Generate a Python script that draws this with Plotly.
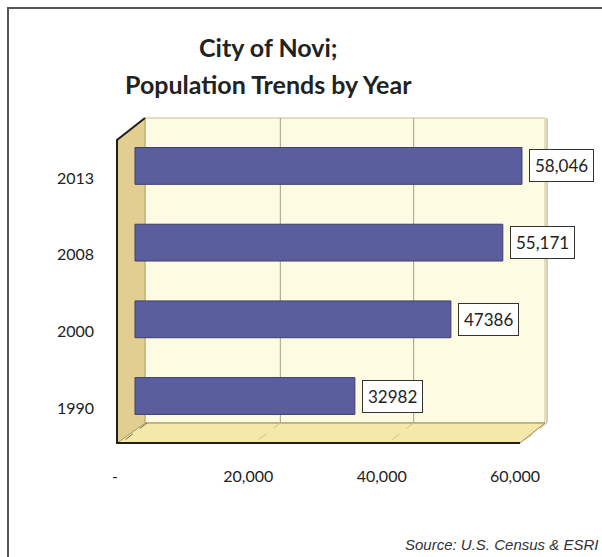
import plotly.graph_objects as go

# ---- data ----
years = ["1990", "2000", "2008", "2013"]
population = [32982, 47386, 55171, 58046]
value_labels = ["32982", "47386", "55,171", "58,046"]
x_tickvals = [0, 20000, 40000, 60000]
x_ticktext = ["-", "20,000", "40,000", "60,000"]
title_lines = ["City of Novi;", "Population Trends by Year"]
source_text = "Source: U.S. Census & ESRI"

# ---- layout geometry (pixels) ----
W, H = 602, 557
L, R, T, B = 100, 32, 118, 134
PW, PH = W - L - R, H - T - B


def px(x):
    return (x - L) / PW


def py(y):
    return (H - B - y) / PH


bar_color = "#5b5e9c"
wall_back = "#fdfbe2"
wall_side = "#e2ce90"
floor_col = "#f4e8aa"
grid_col = "#a8a27c"
font_main = "Lato, Carlito, sans-serif"

fig = go.Figure()
fig.add_trace(go.Bar(
    y=years, x=population, orientation="h",
    width=0.48,
    marker=dict(color=bar_color, line=dict(color="#3c3f70", width=1)),
    hoverinfo="skip",
))

shapes = []
# outer border
shapes.append(dict(type="rect", xref="paper", yref="paper",
                   x0=px(8), x1=px(640), y0=py(8), y1=py(600),
                   line=dict(color="#555", width=2), fillcolor="rgba(0,0,0,0)", layer="below"))
# back wall
shapes.append(dict(type="rect", xref="paper", yref="paper",
                   x0=px(145), x1=px(545), y0=py(118), y1=py(423),
                   line=dict(color="#c9c090", width=1), fillcolor=wall_back, layer="below"))
# floor
shapes.append(dict(type="path", xref="paper", yref="paper",
                   path=f"M {px(145)},{py(423)} L {px(545)},{py(423)} L {px(520)},{py(443)} L {px(117)},{py(443)} Z",
                   line=dict(color="#8f8456", width=1), fillcolor=floor_col, layer="below"))
# left side wall
shapes.append(dict(type="path", xref="paper", yref="paper",
                   path=f"M {px(117)},{py(140)} L {px(145)},{py(118)} L {px(145)},{py(423)} L {px(117)},{py(443)} Z",
                   line=dict(color="#b5a56a", width=1), fillcolor=wall_side, layer="below"))
# dark outer edges of the side wall and floor
shapes.append(dict(type="path", xref="paper", yref="paper",
                   path=f"M {px(145)},{py(118)} L {px(117)},{py(140)} L {px(117)},{py(443)} L {px(520)},{py(443)}",
                   line=dict(color="#1e1e1e", width=2), layer="below"))
# gridlines on back wall (offset by depth)
for v in x_tickvals[1:]:
    shapes.append(dict(type="line", xref="x", yref="paper", xsizemode="pixel", xanchor=v,
                       x0=12, x1=12, y0=0, y1=1,
                       line=dict(color=grid_col, width=1), layer="below"))
# depth diagonals on the floor
for v in x_tickvals:
    shapes.append(dict(type="line", xref="x", yref="paper", xsizemode="pixel", xanchor=v,
                       x0=12, x1=-14, y0=0, y1=-20 / PH,
                       line=dict(color="#6f6848" if v == 0 else "#cfc38a", width=1, dash="dash"),
                       layer="below"))

annotations = []
for i, (val, lab) in enumerate(zip(population, value_labels)):
    annotations.append(dict(x=val, y=i, xref="x", yref="y", text=lab, showarrow=False,
                            xanchor="left", yanchor="middle", xshift=7,
                            font=dict(family=font_main, size=17, color="#222"),
                            bgcolor="white", bordercolor="#333", borderwidth=1, borderpad=5))
for line, yc in zip(title_lines, [47, 84]):
    annotations.append(dict(x=px(268), y=py(yc), xref="paper", yref="paper",
                            text=f"<b>{line}</b>", showarrow=False,
                            xanchor="center", yanchor="middle",
                            font=dict(family=font_main, size=25, color="#222")))
annotations.append(dict(x=px(600), y=py(544), xref="paper", yref="paper",
                        text=f"<i>{source_text}</i>", showarrow=False,
                        xanchor="right", yanchor="middle",
                        font=dict(family="Liberation Sans, Arial, sans-serif", size=15, color="#333")))

fig.update_layout(
    width=W, height=H, autosize=False,
    margin=dict(l=L, r=R, t=T, b=B, pad=0),
    paper_bgcolor="white", plot_bgcolor="rgba(0,0,0,0)",
    showlegend=False,
    xaxis=dict(range=[-5250, 65250], tickvals=x_tickvals, ticktext=x_ticktext,
               showgrid=False, zeroline=False, showline=False, ticks="",
               ticklabelshift=-20, ticklabelstandoff=42,
               tickfont=dict(family=font_main, size=16, color="#222"), fixedrange=True),
    yaxis=dict(type="category", categoryorder="array", categoryarray=years,
               range=[-0.352, 3.625], showgrid=False, zeroline=False, showline=False,
               ticks="", ticklabelshift=12, ticklabelstandoff=5,
               tickfont=dict(family=font_main, size=16, color="#222"), fixedrange=True),
    shapes=shapes,
    annotations=annotations,
)

fig.write_html("out.html", config={"displayModeBar": False},
               post_script="document.body.style.margin='0px';")
